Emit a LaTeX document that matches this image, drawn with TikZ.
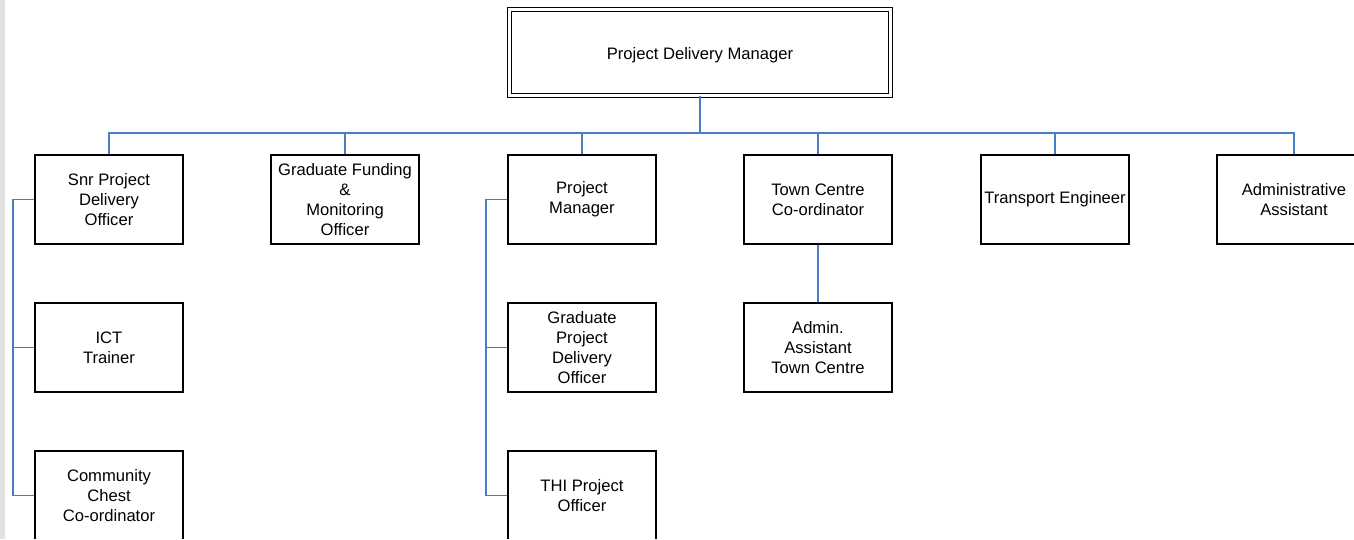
\documentclass[tikz,border=0pt]{standalone}
\usepackage{fontspec}
\setmainfont{Liberation Sans}
\definecolor{connblue}{RGB}{74,126,196}
\definecolor{stripgray}{RGB}{226,226,226}
\begin{document}
\begin{tikzpicture}[x=1pt,y=-1pt,
  box/.style={draw=black,line width=1.5pt,rectangle,minimum width=148pt,minimum height=89pt,inner sep=0pt,align=center,font=\fontsize{16.6}{20}\selectfont},
  topbox/.style={draw=black,line width=1.3pt,double=white,double distance=2.7pt,rectangle,minimum width=380.4pt,minimum height=85.4pt,inner sep=0pt,align=center,font=\fontsize{16.6}{20}\selectfont,text height=14pt,text depth=1pt},
  conn/.style={draw=connblue,line width=1.5pt}]
\useasboundingbox (0,0) rectangle (1354,539);
\fill[white] (0,0) rectangle (1354,539);
\clip (0,0) rectangle (1354,538.3);
\fill[stripgray] (0,0) rectangle (5,539);

\node[topbox] (pdm) at (700,52.5) {Project Delivery Manager};

\node[box] (spdo) at (109,199.5) {Snr Project\\Delivery\\Officer};
\node[box] (gfmo) at (345,199.5) {Graduate Funding\\\&\\Monitoring\\Officer};
\node[box] (pm) at (582,199.5) {Project\\Manager};
\node[box] (tcc) at (818,199.5) {Town Centre\\Co-ordinator};
\node[box] (te) at (1055,199.5) {Transport Engineer};
\node[box,minimum width=154pt] (aa) at (1294,199.5) {Administrative\\Assistant};

\node[box] (ict) at (109,347.5) {ICT\\Trainer};
\node[box] (gpdo) at (582,347.5) {Graduate\\Project\\Delivery\\Officer};
\node[box] (aatc) at (818,347.5) {Admin.\\Assistant\\Town Centre};

\node[box] (cc) at (109,495.5) {Community\\Chest\\Co-ordinator};
\node[box] (thi) at (582,495.5) {THI Project\\Officer};

\coordinate (bus) at (0,133);
\coordinate (lx) at (13,0);
\coordinate (mx) at (486,0);

\draw[conn] (pdm.south) -- (pdm.south |- bus);
\draw[conn] (spdo.north) -- (spdo.north |- bus) -- (aa.north |- bus) -- (aa.north);
\foreach \n in {gfmo,pm,tcc,te} \draw[conn] (\n.north) -- (\n.north |- bus);

\draw[conn] (spdo.west) -- (spdo.west -| lx) -- (cc.west -| lx) -- (cc.west);
\draw[conn] (ict.west) -- (ict.west -| lx);

\draw[conn] (pm.west) -- (pm.west -| mx) -- (thi.west -| mx) -- (thi.west);
\draw[conn] (gpdo.west) -- (gpdo.west -| mx);

\draw[conn] (tcc.south) -- (aatc.north);
\end{tikzpicture}
\end{document}
